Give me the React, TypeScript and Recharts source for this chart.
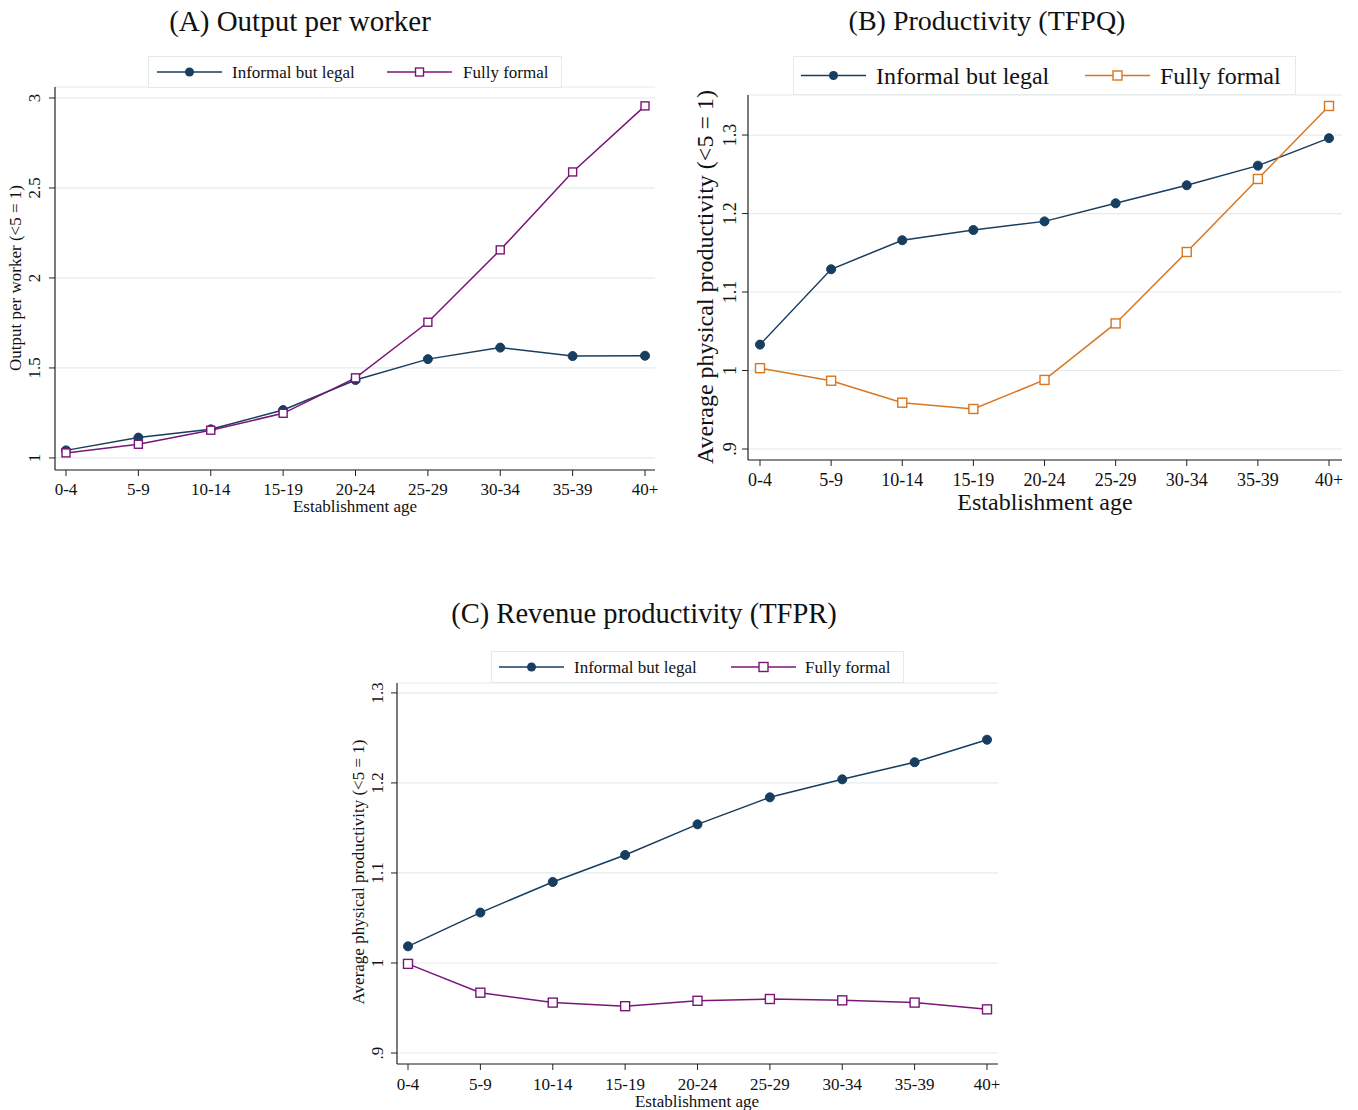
import React from 'react';
import { LineChart, Line, XAxis, YAxis, CartesianGrid } from 'recharts';

// ---------- data ----------
const ageGroups = ['0-4', '5-9', '10-14', '15-19', '20-24', '25-29', '30-34', '35-39', '40+'];

const outputInformal = [1.042, 1.113, 1.159, 1.266, 1.433, 1.549, 1.613, 1.566, 1.568];
const outputFormal = [1.028, 1.076, 1.154, 1.248, 1.445, 1.754, 2.156, 2.589, 2.956];

const tfpqInformal = [1.033, 1.129, 1.166, 1.179, 1.190, 1.213, 1.236, 1.261, 1.296];
const tfpqFormal = [1.003, 0.987, 0.959, 0.951, 0.988, 1.060, 1.151, 1.244, 1.337];

const tfprInformal = [1.0185, 1.056, 1.090, 1.120, 1.154, 1.184, 1.204, 1.223, 1.248];
const tfprFormal = [0.999, 0.967, 0.956, 0.952, 0.958, 0.960, 0.9585, 0.956, 0.9485];

const outputTicks = [1, 1.5, 2, 2.5, 3];
const productivityTicks = [0.9, 1, 1.1, 1.2, 1.3];

const seriesNames = ['Informal but legal', 'Fully formal'];
const axisTitleX = 'Establishment age';

// ---------- style ----------
const FONT = '"Liberation Serif", "Times New Roman", Times, serif';
const NAVY = '#173d5f';
const PURPLE = '#7a1677';
const ORANGE = '#d9761f';
const GRID = '#e3ecec';
const AXIS = '#222222';
const TEXT = '#111111';

const fmtTick = (v: number) => (v < 1 ? String(v).replace(/^0/, '') : String(v));

const makeRows = (a: number[], b: number[]) =>
  ageGroups.map((age, i) => ({ age, informal: a[i], formal: b[i] }));

const circleDot = (color: string, r: number) => (props: any) => {
  const { cx, cy, index } = props;
  return <circle key={`c-${index}`} cx={cx} cy={cy} r={r} fill={color} stroke={color} strokeWidth={1} />;
};

const squareDot = (color: string, s: number) => (props: any) => {
  const { cx, cy, index } = props;
  return (
    <rect
      key={`s-${index}`}
      x={cx - s / 2}
      y={cy - s / 2}
      width={s}
      height={s}
      fill="white"
      stroke={color}
      strokeWidth={1.4}
    />
  );
};

const RotTick = (props: any) => {
  const { x, y, payload, fs, shift } = props;
  const tx = x - shift;
  return (
    <text
      x={tx}
      y={y}
      transform={`rotate(-90 ${tx} ${y})`}
      textAnchor="middle"
      dominantBaseline="central"
      fontSize={fs}
      fontFamily={FONT}
      fill={TEXT}
    >
      {fmtTick(payload.value)}
    </text>
  );
};

interface PanelProps {
  left: number;
  top: number;
  width: number;
  height: number;
  margin: { top: number; right: number; bottom: number; left: number };
  yWidth: number;
  xHeight: number;
  padL: number;
  padR: number;
  domain: [number, number];
  ticks: number[];
  informal: number[];
  formal: number[];
  formalColor: string;
  tickFs: number;
  yTickFs: number;
  yShift: number;
  xTickMargin: number;
  dotR: number;
  sq: number;
}

const Panel = (p: PanelProps) => {
  const data = makeRows(p.informal, p.formal);
  return (
    <div style={{ position: 'absolute', left: p.left, top: p.top }}>
      <LineChart width={p.width} height={p.height} data={data} margin={p.margin}>
        <CartesianGrid vertical={false} stroke={GRID} strokeWidth={1.2} />
        <XAxis
          dataKey="age"
          type="category"
          interval={0}
          padding={{ left: p.padL, right: p.padR }}
          height={p.xHeight}
          tickSize={6}
          tickMargin={p.xTickMargin}
          axisLine={{ stroke: AXIS, strokeWidth: 1.2 }}
          tickLine={{ stroke: AXIS }}
          tick={{ fontSize: p.tickFs, fontFamily: FONT, fill: TEXT }}
        />
        <YAxis
          type="number"
          domain={p.domain}
          ticks={p.ticks}
          allowDataOverflow
          width={p.yWidth}
          tickSize={6}
          tickMargin={0}
          axisLine={{ stroke: AXIS, strokeWidth: 1.2 }}
          tickLine={{ stroke: AXIS }}
          tick={(tp: any) => <RotTick {...tp} fs={p.yTickFs} shift={p.yShift} />}
        />
        <Line
          dataKey="informal"
          type="linear"
          stroke={NAVY}
          strokeWidth={1.5}
          dot={circleDot(NAVY, p.dotR)}
          activeDot={false}
          isAnimationActive={false}
        />
        <Line
          dataKey="formal"
          type="linear"
          stroke={p.formalColor}
          strokeWidth={1.5}
          dot={squareDot(p.formalColor, p.sq)}
          activeDot={false}
          isAnimationActive={false}
        />
      </LineChart>
    </div>
  );
};

const Centered = ({ x, y, fs, children, rotate }: any) => (
  <div
    style={{
      position: 'absolute',
      left: x,
      top: y,
      transform: `translate(-50%, -50%)${rotate ? ' rotate(-90deg)' : ''}`,
      fontFamily: FONT,
      fontSize: fs,
      lineHeight: 1,
      whiteSpace: 'nowrap',
      color: TEXT,
    }}
  >
    {children}
  </div>
);

interface LegendProps {
  x1: number;
  x2: number;
  y1: number;
  y2: number;
  fs: number;
  formalColor: string;
  items: { lineX: number; textX: number }[];
  dotR: number;
  sq: number;
}

const LegendBox = (l: LegendProps) => {
  const w = l.x2 - l.x1;
  const h = l.y2 - l.y1;
  const cy = h / 2;
  const colors = [NAVY, l.formalColor];
  return (
    <div style={{ position: 'absolute', left: l.x1, top: l.y1, width: w, height: h }}>
      <svg width={w} height={h} style={{ position: 'absolute', left: 0, top: 0 }}>
        <rect x={0.5} y={0.5} width={w - 1} height={h - 1} fill="white" stroke="#e2eaea" strokeWidth={1} />
        {l.items.map((it, i) => {
          const lx = it.lineX - l.x1;
          const mid = lx + 32.5;
          return (
            <g key={i}>
              <line x1={lx} x2={lx + 65} y1={cy} y2={cy} stroke={colors[i]} strokeWidth={1.5} />
              {i === 0 ? (
                <circle cx={mid} cy={cy} r={l.dotR} fill={colors[i]} />
              ) : (
                <rect
                  x={mid - l.sq / 2}
                  y={cy - l.sq / 2}
                  width={l.sq}
                  height={l.sq}
                  fill="white"
                  stroke={colors[i]}
                  strokeWidth={1.4}
                />
              )}
            </g>
          );
        })}
      </svg>
      {l.items.map((it, i) => (
        <div
          key={`t${i}`}
          style={{
            position: 'absolute',
            left: it.textX - l.x1,
            top: cy,
            transform: 'translateY(-50%)',
            fontFamily: FONT,
            fontSize: l.fs,
            lineHeight: 1,
            whiteSpace: 'nowrap',
            color: TEXT,
          }}
        >
          {seriesNames[i]}
        </div>
      ))}
    </div>
  );
};

export default function App() {
  return (
    <div style={{ position: 'absolute', left: 0, top: 0, width: 1358, height: 1110, background: 'white', overflow: 'hidden' }}>
      {/* Panel A */}
      <Panel
        left={0}
        top={0}
        width={680}
        height={530}
        margin={{ top: 87, right: 25, bottom: 30, left: 15 }}
        yWidth={40}
        xHeight={30}
        padL={11}
        padR={10}
        domain={[0.933, 3.061]}
        ticks={outputTicks}
        informal={outputInformal}
        formal={outputFormal}
        formalColor={PURPLE}
        tickFs={17}
        yTickFs={17}
        yShift={14}
        xTickMargin={7}
        dotR={4.5}
        sq={8}
      />
      <Centered x={300} y={21} fs={29}>(A) Output per worker</Centered>
      <Centered x={355} y={506} fs={17}>{axisTitleX}</Centered>
      <Centered x={15} y={278} fs={17} rotate>Output per worker (&lt;5 = 1)</Centered>
      <LegendBox
        x1={148}
        x2={562}
        y1={56}
        y2={88}
        fs={17}
        formalColor={PURPLE}
        dotR={4.5}
        sq={8}
        items={[
          { lineX: 157, textX: 232 },
          { lineX: 387, textX: 463 },
        ]}
      />

      {/* Panel B */}
      <Panel
        left={680}
        top={0}
        width={678}
        height={530}
        margin={{ top: 95, right: 16, bottom: 40, left: 28 }}
        yWidth={40}
        xHeight={30}
        padL={12}
        padR={13}
        domain={[0.886, 1.351]}
        ticks={productivityTicks}
        informal={tfpqInformal}
        formal={tfpqFormal}
        formalColor={ORANGE}
        tickFs={18}
        yTickFs={18}
        yShift={12}
        xTickMargin={7}
        dotR={4.5}
        sq={9}
      />
      <Centered x={987} y={21} fs={28}>(B) Productivity (TFPQ)</Centered>
      <Centered x={1045} y={502} fs={24}>{axisTitleX}</Centered>
      <Centered x={705} y={277} fs={24} rotate>Average physical productivity (&lt;5 = 1)</Centered>
      <LegendBox
        x1={793}
        x2={1296}
        y1={56}
        y2={95}
        fs={24}
        formalColor={ORANGE}
        dotR={4.5}
        sq={9}
        items={[
          { lineX: 801, textX: 876 },
          { lineX: 1085, textX: 1160 },
        ]}
      />

      {/* Panel C */}
      <Panel
        left={300}
        top={560}
        width={740}
        height={550}
        margin={{ top: 123, right: 42, bottom: 16, left: 57 }}
        yWidth={40}
        xHeight={30}
        padL={11}
        padR={11}
        domain={[0.8878, 1.311]}
        ticks={productivityTicks}
        informal={tfprInformal}
        formal={tfprFormal}
        formalColor={PURPLE}
        tickFs={17}
        yTickFs={17}
        yShift={13}
        xTickMargin={8}
        dotR={4.5}
        sq={9}
      />
      <Centered x={644} y={614} fs={28.5}>(C) Revenue productivity (TFPR)</Centered>
      <Centered x={697} y={1101} fs={17}>{axisTitleX}</Centered>
      <Centered x={358} y={872} fs={17} rotate>Average physical productivity (&lt;5 = 1)</Centered>
      <LegendBox
        x1={491}
        x2={904}
        y1={651}
        y2={683}
        fs={17}
        formalColor={PURPLE}
        dotR={4.5}
        sq={9}
        items={[
          { lineX: 499, textX: 574 },
          { lineX: 731, textX: 805 },
        ]}
      />
    </div>
  );
}
